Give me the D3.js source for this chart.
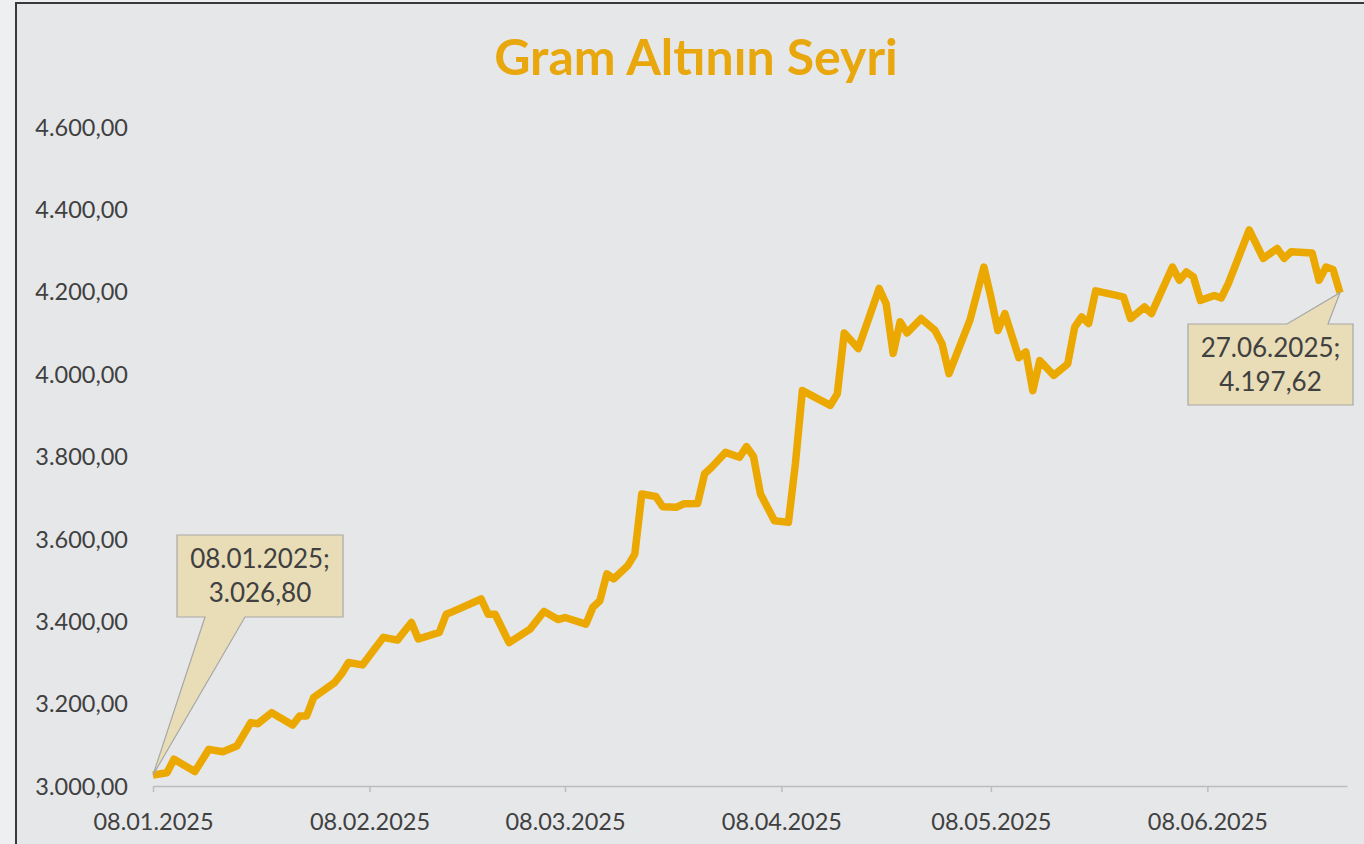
<!DOCTYPE html>
<html><head><meta charset="utf-8">
<script src="https://cdn.jsdelivr.net/npm/d3@7"></script>
<style>
html,body{margin:0;padding:0;background:#eeeff0;}
svg{display:block;}
</style></head>
<body>
<svg id="chart" width="1364" height="844"></svg>
<script>
const title = "Gram Altının Seyri";
const dates = ["2025-01-08","2025-01-10","2025-01-11","2025-01-14","2025-01-16","2025-01-18","2025-01-20","2025-01-22","2025-01-23","2025-01-25","2025-01-28","2025-01-29","2025-01-30","2025-01-31","2025-02-03","2025-02-04","2025-02-05","2025-02-07","2025-02-10","2025-02-12","2025-02-14","2025-02-15","2025-02-18","2025-02-19","2025-02-20","2025-02-24","2025-02-25","2025-02-26","2025-02-28","2025-03-03","2025-03-05","2025-03-07","2025-03-08","2025-03-11","2025-03-12","2025-03-13","2025-03-14","2025-03-15","2025-03-17","2025-03-18","2025-03-19","2025-03-21","2025-03-22","2025-03-24","2025-03-25","2025-03-27","2025-03-28","2025-03-29","2025-03-31","2025-04-02","2025-04-03","2025-04-04","2025-04-05","2025-04-07","2025-04-09","2025-04-10","2025-04-11","2025-04-15","2025-04-16","2025-04-17","2025-04-19","2025-04-22","2025-04-23","2025-04-24","2025-04-25","2025-04-26","2025-04-28","2025-04-30","2025-05-01","2025-05-02","2025-05-05","2025-05-07","2025-05-08","2025-05-09","2025-05-10","2025-05-12","2025-05-13","2025-05-14","2025-05-15","2025-05-17","2025-05-19","2025-05-20","2025-05-21","2025-05-22","2025-05-23","2025-05-26","2025-05-27","2025-05-28","2025-05-30","2025-05-31","2025-06-03","2025-06-04","2025-06-05","2025-06-06","2025-06-07","2025-06-09","2025-06-10","2025-06-11","2025-06-14","2025-06-16","2025-06-18","2025-06-19","2025-06-20","2025-06-23","2025-06-24","2025-06-25","2025-06-26","2025-06-27"];
const values = [3026.80,3032,3065,3035,3089,3083,3097,3154,3151,3178,3148,3170,3170,3215,3251,3272,3300,3294,3361,3354,3397,3357,3373,3417,3424,3454,3417,3417,3348,3381,3424,3404,3409,3393,3434,3450,3515,3503,3535,3563,3709,3703,3678,3677,3685,3686,3758,3774,3810,3798,3824,3800,3709,3644,3640,3782,3960,3924,3952,4100,4062,4208,4171,4050,4127,4100,4135,4106,4074,4001,4131,4260,4187,4106,4147,4040,4054,3960,4033,3997,4025,4114,4139,4123,4202,4191,4187,4135,4163,4147,4260,4228,4248,4236,4179,4191,4185,4220,4350,4281,4305,4281,4297,4294,4228,4260,4254,4197.62];
const xTickLabels = ["2025-01-08","2025-02-08","2025-03-08","2025-04-08","2025-05-08","2025-06-08"];
const yTickValues = [3000,3200,3400,3600,3800,4000,4200,4400,4600];
const axisEnd = "2025-06-28";

const parse = d3.timeParse("%Y-%m-%d");
const data = dates.map((d,i)=>({date:parse(d), value:values[i]}));
const locale = d3.formatLocale({decimal:",", thousands:".", grouping:[3], currency:["",""]});
const fmtNum = locale.format(",.2f");
const fmtDate = d3.timeFormat("%d.%m.%Y");

const svg = d3.select("#chart");
const FONT = "Lato, 'Open Sans', sans-serif";

// background panel
svg.append("rect").attr("x",16).attr("y",3).attr("width",1364).attr("height",860)
  .attr("fill","#e6e7e9").attr("stroke","#3a3a3a").attr("stroke-width",2);

const x = d3.scaleTime().domain([parse("2025-01-08"), parse(axisEnd)]).range([153,1347]);
const y = d3.scaleLinear().domain([3000,4600]).range([786,127]);

// title
svg.append("text").attr("x",696).attr("y",75).attr("text-anchor","middle")
  .attr("font-family",FONT).attr("font-weight",700).attr("font-size",50)
  .attr("fill","#e9a70e").text(title);

// y axis labels (no line)
const yAxis = d3.axisLeft(y).tickValues(yTickValues).tickFormat(fmtNum).tickSize(0).tickPadding(0);
const gy = svg.append("g").attr("transform","translate(128,0)").call(yAxis);
gy.select(".domain").remove();
gy.selectAll("text").attr("font-family",FONT).attr("font-size",23.5).attr("fill","#404040").attr("dy","0.35em");

// x axis
const xAxis = d3.axisBottom(x).tickValues(xTickLabels.map(parse)).tickFormat(fmtDate).tickSize(6).tickSizeOuter(0).tickPadding(30);
const gx = svg.append("g").attr("transform",`translate(0,${y(3000)})`).call(xAxis);
gx.select(".domain").attr("stroke","#bdbdbd").attr("stroke-width",1.5);
gx.selectAll(".tick line").attr("stroke","#bdbdbd").attr("stroke-width",1.5);
gx.selectAll("text").attr("font-family",FONT).attr("font-size",23.5).attr("fill","#404040").attr("dy","0.35em");

// line
const line = d3.line().x(d=>x(d.date)).y(d=>y(d.value));
svg.append("path").datum(data).attr("d",line).attr("fill","none")
  .attr("stroke","#eba800").attr("stroke-width",7.5).attr("stroke-linejoin","round");

// callouts
function callout(pt, box, base, lines){
  const px = x(pt.date), py = y(pt.value);
  const [bx,by,bw,bh] = box;
  let p;
  if (base.side === "bottom"){
    p = `M${bx},${by} H${bx+bw} V${by+bh} H${base.b} L${px},${py} L${base.a},${by+bh} H${bx} Z`;
  } else {
    p = `M${bx},${by} H${base.a} L${px},${py} L${base.b},${by} H${bx+bw} V${by+bh} H${bx} Z`;
  }
  svg.append("path").attr("d",p).attr("fill","#e8ddb7").attr("stroke","#a7a7a7").attr("stroke-width",1.2);
  lines.forEach((t,i)=>{
    svg.append("text").attr("x",bx+bw/2).attr("y",by+33+i*34).attr("text-anchor","middle")
      .attr("font-family",FONT).attr("font-size",26).attr("fill","#404040").text(t);
  });
}
const first = data[0], last = data[data.length-1];
callout(first,[177,535,166,82],{side:"bottom",a:205,b:245},[fmtDate(first.date)+";", fmtNum(first.value)]);
callout(last,[1188,324,165,81],{side:"top",a:1287,b:1328},[fmtDate(last.date)+";", fmtNum(last.value)]);
</script>
</body></html>
